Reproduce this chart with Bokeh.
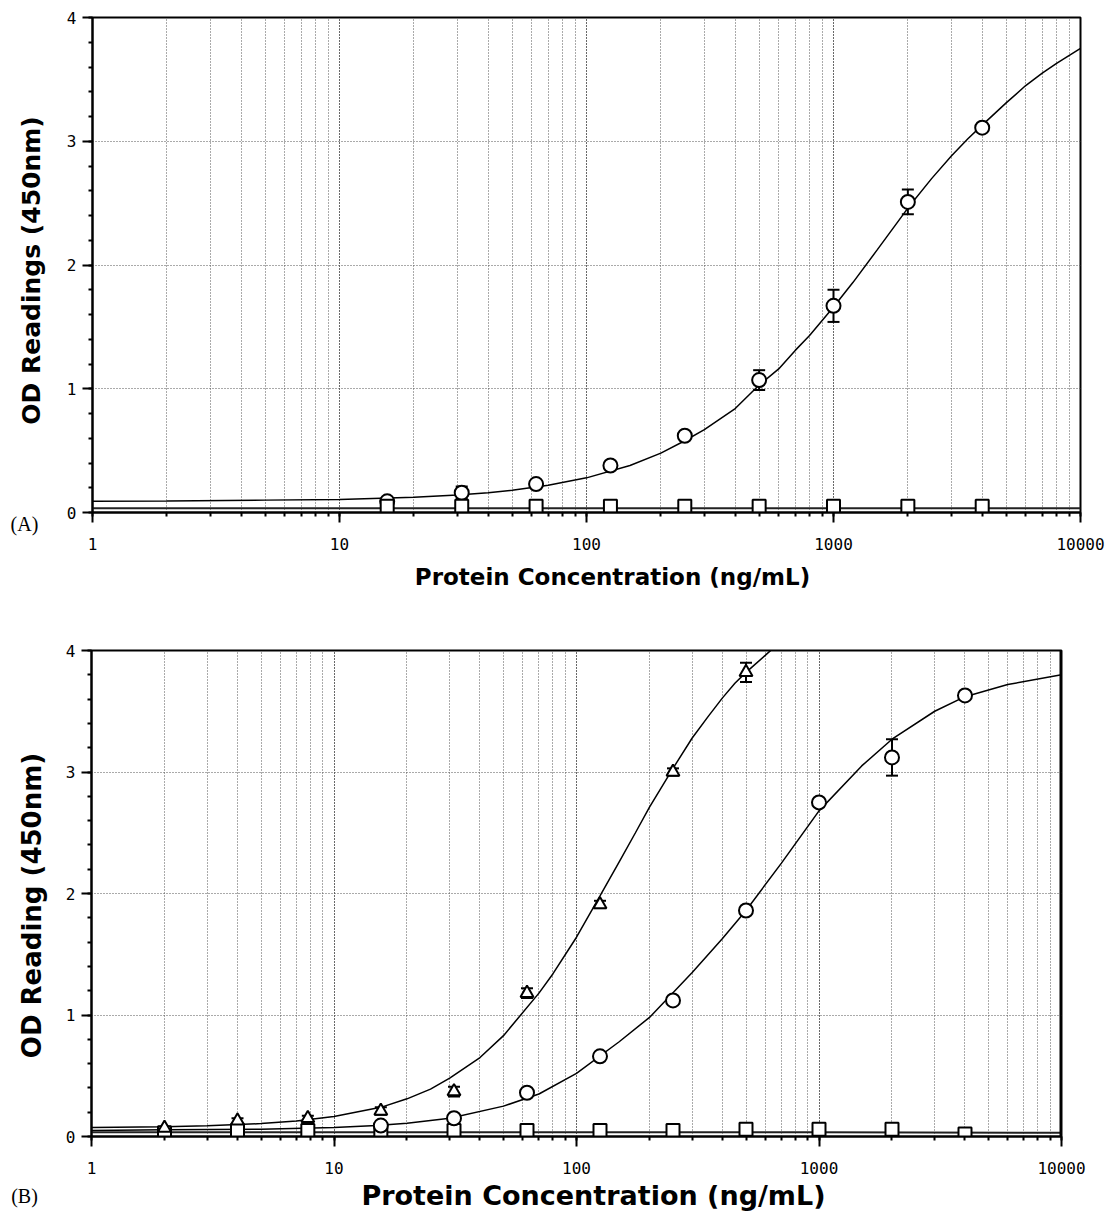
import math
from bokeh.plotting import figure
from bokeh.layouts import column, row
from bokeh.models import (ColumnDataSource, Whisker, TeeHead, Range1d,
                          SingleIntervalTicker, LogTicker, NumeralTickFormatter)
from bokeh.core.properties import value
from bokeh.embed import file_html
from bokeh.resources import INLINE

# ---------------- Panel A data ----------------
a_conc = [15.6, 31.25, 62.5, 125, 250, 500, 1000, 2000, 4000]
a_circle_od = [0.09, 0.16, 0.23, 0.38, 0.62, 1.07, 1.67, 2.51, 3.11]
a_circle_err = [0.02, 0.05, 0.03, 0.02, 0.02, 0.08, 0.13, 0.10, 0.03]
a_square_od = [0.05, 0.05, 0.05, 0.05, 0.05, 0.05, 0.05, 0.05, 0.05]

a_fit_x = [1, 2, 5, 10, 20, 30, 40, 50, 70, 100, 150, 200, 250, 300, 400, 500,
           600, 700, 800, 1000, 1200, 1500, 2000, 2500, 3000, 3500, 4000, 5000,
           6000, 7000, 8000, 10000]
a_fit_circle = [0.09, 0.092, 0.10, 0.105, 0.124, 0.142, 0.16, 0.18, 0.22, 0.28,
                0.38, 0.48, 0.58, 0.67, 0.84, 1.03, 1.16, 1.31, 1.43, 1.66, 1.86,
                2.12, 2.46, 2.70, 2.88, 3.02, 3.13, 3.31, 3.45, 3.55, 3.63, 3.75]
a_fit_square_x = [1, 10, 100, 1000, 10000]
a_fit_square = [0.035, 0.035, 0.035, 0.035, 0.035]

# ---------------- Panel B data ----------------
b_tri_conc = [2, 4, 7.8, 15.6, 31.25, 62.5, 125, 250, 500]
b_tri_od = [0.07, 0.13, 0.15, 0.21, 0.37, 1.18, 1.91, 3.00, 3.82]
b_tri_err = [0.01, 0.02, 0.02, 0.03, 0.04, 0.04, 0.03, 0.03, 0.08]

b_circ_conc = [15.6, 31.25, 62.5, 125, 250, 500, 1000, 2000, 4000]
b_circ_od = [0.09, 0.15, 0.36, 0.66, 1.12, 1.86, 2.75, 3.12, 3.63]
b_circ_err = [0.02, 0.02, 0.02, 0.02, 0.02, 0.03, 0.03, 0.15, 0.03]

b_sq_conc = [2, 4, 7.8, 15.6, 31.25, 62.5, 125, 250, 500, 1000, 2000, 4000]
b_sq_od = [0.03, 0.05, 0.05, 0.05, 0.05, 0.05, 0.05, 0.05, 0.06, 0.06, 0.06, 0.02]

b_fit_tri_x = [1, 2, 3, 5, 7, 10, 15.6, 20, 25, 30, 40, 50, 70, 80, 100, 125,
               150, 175, 200, 250, 300, 350, 400, 450, 500, 600, 640]
b_fit_tri = [0.074, 0.08, 0.088, 0.106, 0.128, 0.165, 0.24, 0.31, 0.39, 0.48,
             0.65, 0.83, 1.18, 1.34, 1.64, 1.98, 2.26, 2.50, 2.71, 3.03, 3.28,
             3.46, 3.61, 3.73, 3.82, 3.96, 4.01]
b_fit_circ_x = [1, 2, 5, 10, 15, 20, 30, 50, 70, 100, 150, 200, 300, 400, 500,
                700, 1000, 1500, 2000, 3000, 4000, 6000, 10000]
b_fit_circ = [0.05, 0.055, 0.06, 0.075, 0.09, 0.11, 0.15, 0.25, 0.35, 0.52, 0.78,
              0.98, 1.35, 1.63, 1.86, 2.25, 2.68, 3.05, 3.27, 3.50, 3.62, 3.72, 3.80]
b_fit_sq_x = [1, 10, 100, 1000, 10000]
b_fit_sq = [0.035, 0.035, 0.035, 0.035, 0.03]

x_title = "Protein Concentration (ng/mL)"
y_title_a = "OD Readings (450nm)"
y_title_b = "OD Reading (450nm)"
tag_a = "(A)"
tag_b = "(B)"

tick_font = "DejaVu Sans Mono"
label_font = "DejaVu Sans"
SIDE_W = 56
MAIN_W = 1105 - SIDE_W


def make_main(height, mb_left, mb_right, mb_top, mb_bottom):
    p = figure(width=MAIN_W, height=height, x_axis_type="log",
               x_range=Range1d(1, 10000), y_range=Range1d(0, 4),
               output_backend="svg", toolbar_location=None,
               min_border_left=mb_left, min_border_right=mb_right,
               min_border_top=mb_top, min_border_bottom=mb_bottom)
    p.frame_align = False
    p.background_fill_color = "white"
    p.border_fill_color = "white"
    p.outline_line_color = "black"
    p.outline_line_width = 2
    p.xaxis.ticker = LogTicker(num_minor_ticks=10)
    p.xaxis.formatter = NumeralTickFormatter(format="0")
    p.yaxis.ticker = SingleIntervalTicker(interval=1, num_minor_ticks=5)
    for ax in (p.xaxis[0], p.yaxis[0]):
        ax.axis_line_color = "black"
        ax.axis_line_width = 2
        ax.major_tick_line_color = "black"
        ax.major_tick_line_width = 2
        ax.major_tick_in = 0
        ax.major_tick_out = 10
        ax.minor_tick_line_color = "black"
        ax.minor_tick_line_width = 2
        ax.minor_tick_in = 0
        ax.minor_tick_out = 4
        ax.major_label_text_font = tick_font
        ax.major_label_text_font_size = "16px"
        ax.major_label_text_color = "black"
    p.xaxis.major_label_standoff = 15
    p.yaxis.major_label_standoff = 6
    p.xgrid.grid_line_color = "#555555"
    p.xgrid.grid_line_dash = "1 2"
    p.xgrid.grid_line_width = 1
    p.xgrid.minor_grid_line_color = "#555555"
    p.xgrid.minor_grid_line_dash = "1 2"
    p.xgrid.minor_grid_line_width = 1
    p.ygrid.grid_line_color = "#555555"
    p.ygrid.grid_line_dash = "1 2"
    p.ygrid.grid_line_width = 1
    return p


def make_blank(width, height):
    p = figure(width=width, height=height, x_axis_type=None, y_axis_type=None,
               x_range=Range1d(0, width), y_range=Range1d(height, 0),
               output_backend="svg", toolbar_location=None,
               min_border_left=0, min_border_right=0,
               min_border_top=0, min_border_bottom=0)
    p.frame_align = False
    p.outline_line_color = None
    p.background_fill_color = "white"
    p.border_fill_color = "white"
    p.grid.visible = False
    return p


def add_errors(p, xs, ys, errs):
    src = ColumnDataSource(dict(
        x=xs,
        upper=[y + e for y, e in zip(ys, errs)],
        lower=[y - e for y, e in zip(ys, errs)]))
    w = Whisker(source=src, base="x", upper="upper", lower="lower",
                dimension="height", line_color="black", line_width=2,
                upper_head=TeeHead(size=12, line_color="black", line_width=2),
                lower_head=TeeHead(size=12, line_color="black", line_width=2))
    p.add_layout(w)


def title_text(p, x, y, txt, size, angle=0.0):
    p.text(x=[x], y=[y], text=[txt], angle=angle,
           text_font=value(label_font), text_font_style="bold",
           text_font_size=size, text_color="black",
           text_align="center", text_baseline="middle")


def tag_text(p, x, y, txt):
    p.text(x=[x], y=[y], text=[txt], text_font=value("Liberation Serif"),
           text_font_size="20px", text_color="black",
           text_align="center", text_baseline="middle")


# ---------------- Panel A ----------------
pa = make_main(557, 36, 25, 17, 45)
pa.line(a_fit_x, a_fit_circle, line_color="black", line_width=1.5)
pa.line(a_fit_square_x, a_fit_square, line_color="#222222", line_width=2)
add_errors(pa, a_conc, a_circle_od, a_circle_err)
pa.scatter(a_conc, a_circle_od, marker="circle", size=14, fill_color="white",
           line_color="black", line_width=2)
pa.scatter(a_conc, a_square_od, marker="square", size=13, fill_color="white",
           line_color="black", line_width=2)

xa = make_blank(MAIN_W, 63)
title_text(xa, 556, 19, x_title, "23px")

sa = make_blank(SIDE_W, 620)
title_text(sa, 31, 270, y_title_a, "25px", angle=math.pi / 2)
tag_text(sa, 24, 523, tag_a)

# ---------------- Panel B ----------------
pb = make_main(561, 35, 44, 30, 45)
pb.line(b_fit_tri_x, b_fit_tri, line_color="black", line_width=1.5)
pb.line(b_fit_circ_x, b_fit_circ, line_color="black", line_width=1.5)
pb.line(b_fit_sq_x, b_fit_sq, line_color="#222222", line_width=2)
add_errors(pb, b_tri_conc, b_tri_od, b_tri_err)
add_errors(pb, b_circ_conc, b_circ_od, b_circ_err)
pb.scatter(b_sq_conc, b_sq_od, marker="square", size=13, fill_color="white",
           line_color="black", line_width=2)
pb.scatter(b_circ_conc, b_circ_od, marker="circle", size=14, fill_color="white",
           line_color="black", line_width=2)
pb.scatter(b_tri_conc, b_tri_od, marker="triangle", size=13, fill_color="white",
           line_color="black", line_width=2)
pb.line([10000, 10000], [0, 4], line_color="black", line_width=4)

xb = make_blank(MAIN_W, 32)
title_text(xb, 537, 14, x_title, "27px")

sb = make_blank(SIDE_W, 593)
title_text(sb, 31, 285, y_title_b, "26px", angle=math.pi / 2)
tag_text(sb, 24, 575, tag_b)

layout = column(row(sa, column(pa, xa)), row(sb, column(pb, xb)))
open("out.html", "w").write(file_html(layout, INLINE))
